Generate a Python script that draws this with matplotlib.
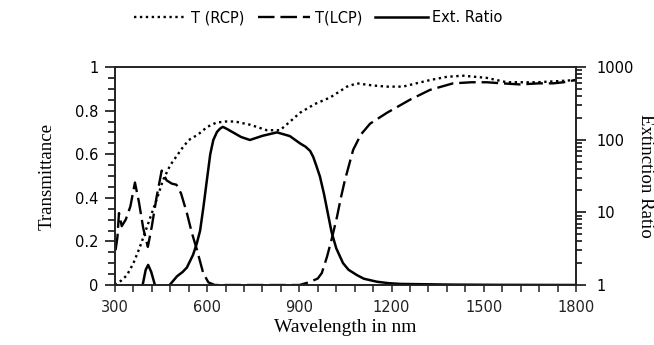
import numpy as np
import matplotlib
matplotlib.use("Agg")
import matplotlib.pyplot as plt
from matplotlib.ticker import MultipleLocator, LogLocator, FixedLocator, NullFormatter, FuncFormatter

# T(RCP), left axis
rcp_nm = [300, 320, 339, 360, 380, 400, 420, 440, 456, 480, 500, 520, 540, 570, 600, 630,
          660, 690, 740, 794, 837, 870, 902, 950, 1000, 1022, 1055, 1087, 1140, 1185,
          1237, 1280, 1325, 1380, 1433, 1510, 1575, 1630, 1673, 1740, 1797]
rcp_t = [0.0, 0.02, 0.045, 0.10, 0.17, 0.25, 0.33, 0.41, 0.48, 0.55, 0.59, 0.63, 0.665,
         0.69, 0.725, 0.745, 0.75, 0.75, 0.735, 0.71, 0.71, 0.75, 0.79, 0.83, 0.86, 0.88,
         0.91, 0.925, 0.915, 0.91, 0.91, 0.925, 0.94, 0.955, 0.96, 0.95, 0.93, 0.93, 0.93,
         0.935, 0.94]

# T(LCP), left axis
lcp_nm = [302, 308, 313, 322, 335, 350, 365, 378, 392, 407, 420, 435, 452, 468, 485, 500,
          515, 534, 550, 567, 587, 604, 625, 700, 800, 900, 935, 960, 973, 990, 1005,
          1022, 1035, 1048, 1075, 1100, 1130, 1185, 1260, 1325, 1400, 1460, 1510, 1560,
          1618, 1680, 1725, 1760, 1797]
lcp_t = [0.16, 0.22, 0.33, 0.27, 0.30, 0.36, 0.47, 0.38, 0.26, 0.175, 0.27, 0.40, 0.525,
         0.48, 0.465, 0.46, 0.42, 0.33, 0.24, 0.16, 0.055, 0.012, 0.0, 0.0, 0.0, 0.0,
         0.014, 0.03, 0.055, 0.13, 0.21, 0.31, 0.40, 0.48, 0.62, 0.69, 0.74, 0.79, 0.85,
         0.895, 0.925, 0.93, 0.93, 0.925, 0.92, 0.925, 0.925, 0.93, 0.94]

# Extinction ratio, right (log) axis; gap where ratio < 1
ext_nm = [390, 400, 408, 418, 430, np.nan, 478, 490, 502, 520, 534, 554, 566, 577, 588,
          598, 610, 620, 632, 642, 651, 665, 684, 710, 739, 780, 827, 869, 902, 920, 935,
          945, 955, 967, 980, 993, 1005, 1020, 1042, 1060, 1087, 1110, 1152, 1190, 1227,
          1300, 1400, 1550, 1800]
ext_ratio = [1.0, 1.62, 1.89, 1.51, 1.0, np.nan, 1.0, 1.15, 1.32, 1.51, 1.74, 2.6, 3.7,
             5.6, 12, 25.7, 63, 99, 128, 142, 150, 140, 126, 109, 99, 113, 126, 112, 89,
             80, 70, 58, 44, 31, 18, 9.5, 5.3, 3.2, 2.0, 1.62, 1.37, 1.22, 1.11, 1.06,
             1.035, 1.025, 1.012, 1.005, 1.0]

fig = plt.figure(figsize=(6.54, 3.45), dpi=100)
ax = fig.add_axes([0.1758, 0.1739, 0.7049, 0.6319])
ax2 = ax.twinx()

l1, = ax.plot(rcp_nm, rcp_t, color="black", lw=1.7, linestyle=(0, (1.0, 1.5)),
              dash_capstyle="butt", label="T (RCP)")
l2, = ax.plot(lcp_nm, lcp_t, color="black", lw=1.7, linestyle=(0, (7.0, 2.5)),
              dash_capstyle="butt", label="T(LCP)")
l3, = ax2.plot(ext_nm, ext_ratio, color="black", lw=1.8, label="Ext. Ratio")

ax.set_xlim(300, 1800)
ax.set_ylim(0, 1)
ax2.set_yscale("log")
ax2.set_ylim(1, 1000)

ax.xaxis.set_major_locator(MultipleLocator(300))
ax.xaxis.set_minor_locator(MultipleLocator(60))
ax.yaxis.set_major_locator(MultipleLocator(0.2))
ax.yaxis.set_minor_locator(MultipleLocator(0.05))
ax.yaxis.set_major_formatter(FuncFormatter(lambda v, p: f"{v:g}"))

ax2.yaxis.set_major_locator(FixedLocator([1, 10, 100, 1000]))
ax2.yaxis.set_minor_locator(LogLocator(base=10, subs=np.arange(2, 10)))
ax2.yaxis.set_minor_formatter(NullFormatter())
ax2.yaxis.set_major_formatter(FuncFormatter(lambda v, p: f"{v:g}"))

for a in (ax, ax2):
    for s in a.spines.values():
        s.set_linewidth(1.2)
        s.set_color("#222222")
ax.tick_params(axis="x", which="both", direction="out", length=5, width=1.1,
               labelsize=10.5, pad=6, colors="#222222")
ax.tick_params(axis="y", which="major", direction="out", length=7, width=1.1,
               labelsize=10.5, pad=5)
ax.tick_params(axis="y", which="minor", direction="out", length=5, width=1.1)
ax2.tick_params(axis="y", which="major", direction="out", length=7, width=1.1,
                labelsize=10.5, pad=8)
ax2.tick_params(axis="y", which="minor", direction="out", length=4.5, width=1.1)

ax.set_xlabel("Wavelength in nm", family="Liberation Serif", fontsize=14, labelpad=3)
ax.set_ylabel("Transmittance", family="Liberation Serif", fontsize=13.5, labelpad=14)
ax2.set_ylabel("Extinction Ratio", family="Liberation Serif", fontsize=13.5,
               rotation=270, labelpad=14)

fig.legend(handles=[l1, l2, l3], loc="center", bbox_to_anchor=(0.487, 0.948), ncol=3,
           frameon=False, fontsize=10.5, handlelength=3.6, handletextpad=0.3,
           columnspacing=0.9, borderpad=0)

fig.savefig("out.png", dpi=100)
